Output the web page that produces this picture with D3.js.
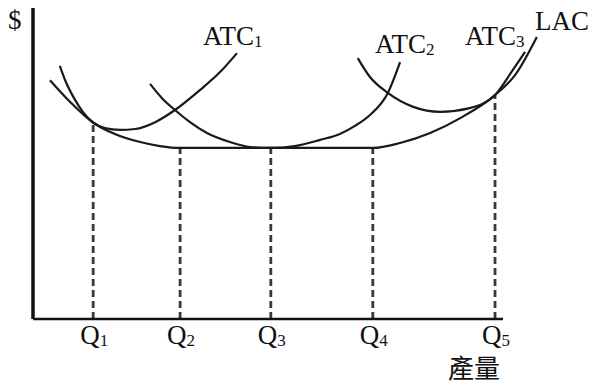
<!DOCTYPE html>
<html>
<head>
<meta charset="utf-8">
<script src="https://cdn.jsdelivr.net/npm/d3@7"></script>
<style>
  body { margin: 0; background: #fff; }
  svg { display: block; }
</style>
</head>
<body>
<svg id="chart"></svg>
<script>
// quantity / cost values (arbitrary units)
const lac = [[3.6, 76.8], [7.9, 69.8], [12.8, 63.1], [17.4, 59.5], [22.8, 56.9], [27.0, 55.6],
  [31.3, 55], [72.3, 55], [78.1, 56.6], [84.5, 59.8], [90.9, 64.6], [98.3, 72.0], [102.6, 78.5], [107.2, 90.7]];
const atc1 = [[5.7, 81.4], [7.0, 76.2], [8.7, 71.1], [10.6, 66.6], [12.8, 63.2], [15.3, 61.4], [18.5, 60.8],
  [21.7, 61.1], [26.0, 63.3], [30.2, 67.2], [35.5, 73.6], [39.8, 79.4], [43.4, 85.5]];
const atc2 = [[24.9, 75.6], [27.4, 71.1], [30.2, 67.2], [33.4, 63.3], [37.0, 59.8], [41.9, 56.9], [46.2, 55.3],
  [50.6, 55.0], [55.7, 55.6], [61.1, 57.6], [65.3, 59.5], [68.5, 62.1], [71.7, 65.6], [75.5, 72.7], [78.1, 82.6]];
const atc3 = [[69.1, 83.9], [71.7, 77.8], [75.5, 72.7], [80.9, 68.2], [86.6, 66.6], [92.9, 67.8], [98.3, 72.0],
  [102.1, 80.1], [104.7, 85.9]];

const qValues = [12.8, 31.3, 50.6, 72.3, 98.3];
const qCost = [63.1, 55, 55, 55, 72.0];
const qLabels = ['1', '2', '3', '4', '5'];

const width = 593;
const height = 385;

const svg = d3.select('#chart').attr('width', width).attr('height', height);

const x = d3.scaleLinear().domain([0, 100]).range([33, 503]);
const y = d3.scaleLinear().domain([0, 100]).range([319, 8]);

const line = d3.line()
  .x((d) => x(d[0]))
  .y((d) => y(d[1]))
  .curve(d3.curveMonotoneX);

// dashed guides from each Q up to LAC
svg.append('g')
  .selectAll('line')
  .data(qValues)
  .join('line')
  .attr('x1', (d) => x(d))
  .attr('x2', (d) => x(d))
  .attr('y1', y(0))
  .attr('y2', (d, i) => y(qCost[i]))
  .attr('stroke', '#3a3a3a')
  .attr('stroke-width', 2.8)
  .attr('stroke-dasharray', '7,4');

// curves
[lac, atc1, atc2, atc3].forEach((c) => {
  svg.append('path')
    .datum(c)
    .attr('fill', 'none')
    .attr('stroke', '#1a1a1a')
    .attr('stroke-width', 2.2)
    .attr('d', line);
});

// axes (no ticks)
svg.append('line')
  .attr('x1', x(0)).attr('x2', x(0))
  .attr('y1', y(0)).attr('y2', y(100))
  .attr('stroke', '#111').attr('stroke-width', 3.5);
svg.append('line')
  .attr('x1', x(0)).attr('x2', x(100))
  .attr('y1', y(0)).attr('y2', y(0))
  .attr('stroke', '#111').attr('stroke-width', 2.5);

const serif = 'Liberation Serif, Times New Roman, serif';

// Q labels with subscripts
const qText = svg.append('g')
  .selectAll('text')
  .data(qValues)
  .join('text')
  .attr('x', (d) => x(d) - 13)
  .attr('y', 344)
  .attr('font-family', serif)
  .attr('font-size', 27)
  .attr('fill', '#111');
qText.append('tspan').text('Q');
qText.append('tspan')
  .attr('font-size', 17)
  .attr('dy', 2)
  .text((d, i) => qLabels[i]);

// curve labels
const labels = [
  { t: 'ATC', s: '1', x: 203, y: 45 },
  { t: 'ATC', s: '2', x: 375, y: 53 },
  { t: 'ATC', s: '3', x: 465, y: 45 },
  { t: 'LAC', s: '', x: 535, y: 30 },
  { t: '$', s: '', x: 8, y: 29 }
];
labels.forEach((l) => {
  const t = svg.append('text')
    .attr('x', l.x)
    .attr('y', l.y)
    .attr('font-family', serif)
    .attr('font-size', 27)
    .attr('fill', '#111');
  t.append('tspan').text(l.t);
  if (l.s) t.append('tspan').attr('font-size', 17).attr('dy', 2).text(l.s);
});

svg.append('text')
  .attr('x', 448)
  .attr('y', 378)
  .attr('font-family', 'Noto Sans CJK TC, sans-serif')
  .attr('font-size', 26)
  .attr('fill', '#111')
  .text('產量');
</script>
</body>
</html>
